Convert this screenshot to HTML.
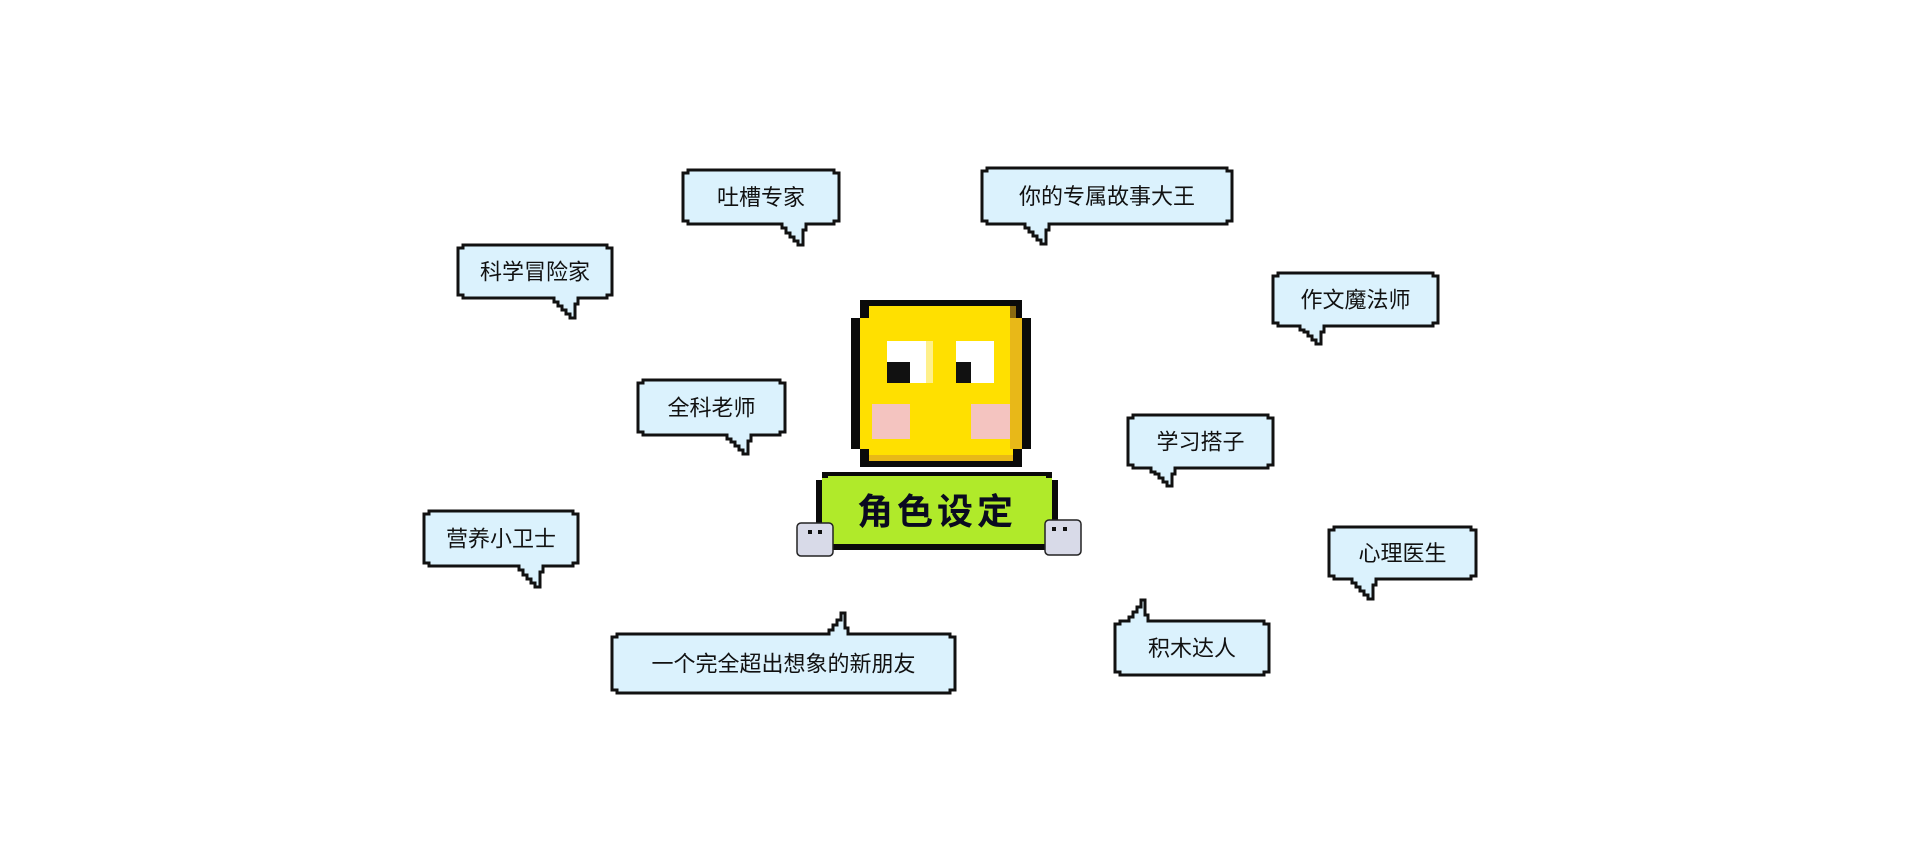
<!DOCTYPE html>
<html><head><meta charset="utf-8">
<style>
html,body{margin:0;padding:0;background:#fff;width:1920px;height:865px;overflow:hidden}
svg text{font-family:"Liberation Sans","Noto Sans CJK SC",sans-serif}
</style></head>
<body>
<svg id="s" width="1920" height="865" xmlns="http://www.w3.org/2000/svg">
<!-- character head -->
<g>
<rect x="860" y="300" width="162" height="167" fill="#0a0a0a"/>
<rect x="851" y="318" width="180" height="131" fill="#0a0a0a"/>
<rect x="869" y="306" width="144" height="155" fill="#ffe000"/>
<rect x="860" y="318" width="162" height="131" fill="#ffe000"/>
<rect x="1010" y="318" width="12" height="131" fill="#e8b818"/>
<rect x="869" y="455" width="144" height="6" fill="#e8b818"/>
<rect x="1010" y="306" width="6" height="12" fill="#8a6a10"/>
<rect x="887" y="341" width="46" height="42" fill="#fff"/>
<rect x="926" y="341" width="7" height="42" fill="#fff08a"/>
<rect x="887" y="362" width="23" height="21" fill="#111"/>
<rect x="956" y="341" width="38" height="42" fill="#fff"/>
<rect x="956" y="362" width="15" height="21" fill="#111"/>
<rect x="872" y="404" width="38" height="35" fill="#f4c4c0"/>
<rect x="971" y="404" width="39" height="35" fill="#f4c4c0"/>
</g>
<!-- banner -->
<g>
<rect x="822" y="472" width="230" height="78" fill="#0a0a0a"/>
<rect x="816" y="480" width="242" height="62" fill="#0a0a0a"/>
<rect x="822" y="478" width="230" height="66" fill="#b0ea2a"/>
<rect x="828" y="476" width="218" height="4" fill="#b0ea2a"/>
<text x="937" y="524" font-size="36" font-weight="bold" text-anchor="middle" fill="#0a0a20" letter-spacing="4">角色设定</text>
</g>
<!-- small cubes -->
<g>
<rect x="797" y="523" width="36" height="33" rx="4" fill="#d8dae8" stroke="#222" stroke-width="1.5"/>
<rect x="808" y="530" width="4" height="4" fill="#111"/><rect x="818" y="530" width="4" height="4" fill="#111"/>
<rect x="1045" y="520" width="36" height="35" rx="4" fill="#d8dae8" stroke="#222" stroke-width="1.5"/>
<rect x="1052" y="527" width="4" height="4" fill="#111"/><rect x="1063" y="527" width="4" height="4" fill="#111"/>
</g>
<g id="b"></g>
</svg>
<script>
var B=[
["吐槽专家",683,170,839,224,798,245,0],
["你的专属故事大王",982,168,1232,224,1041,244,0],
["科学冒险家",458,245,612,298,570,318,0],
["作文魔法师",1273,273,1438,326,1316,344,0],
["全科老师",638,380,785,435,743,454,0],
["学习搭子",1128,415,1273,468,1167,486,0],
["营养小卫士",424,511,578,566,535,587,0],
["心理医生",1329,527,1476,579,1368,599,0],
["积木达人",1115,621,1269,675,1145,600,1],
["一个完全超出想象的新朋友",612,634,955,693,845,613,1]
];
var out="";
B.forEach(function(b){
 var t=b[0],x1=b[1],y1=b[2],x2=b[3],y2=b[4],tx=b[5],ty=b[6],up=b[7];
 var c=5,p=[];
 // top edge
 p.push([x1+c,y1]);
 if(up){p.push([tx-16,y1],[tx-16,y1-4],[tx-12,y1-4],[tx-12,y1-9],[tx-8,y1-9],[tx-8,y1-14],[tx-4,y1-14],[tx-4,ty],[tx,ty],[tx,y1-6],[tx+3,y1-6],[tx+3,y1]);}
 p.push([x2-c,y1],[x2-c,y1+3],[x2,y1+3],[x2,y2-3],[x2-c,y2-3],[x2-c,y2]);
 if(!up){p.push([tx+8,y2],[tx+8,y2+6],[tx+5,y2+6],[tx+5,ty],[tx,ty],[tx,ty-4],[tx-4,ty-4],[tx-4,ty-8],[tx-8,ty-8],[tx-8,ty-12],[tx-12,ty-12],[tx-12,y2+4],[tx-16,y2+4],[tx-16,y2]);}
 p.push([x1+c,y2],[x1+c,y2-3],[x1,y2-3],[x1,y1+3],[x1+c,y1+3]);
 out+='<polygon points="'+p.map(function(q){return q.join(",")}).join(" ")+'" fill="#dbf2fd" stroke="#111" stroke-width="3" stroke-linejoin="miter"/>';
 out+='<text x="'+((x1+x2)/2)+'" y="'+((y1+y2)/2+8)+'" font-size="22" text-anchor="middle" fill="#111">'+t+'</text>';
});
document.getElementById("b").innerHTML=out;
</script>
</body></html>
